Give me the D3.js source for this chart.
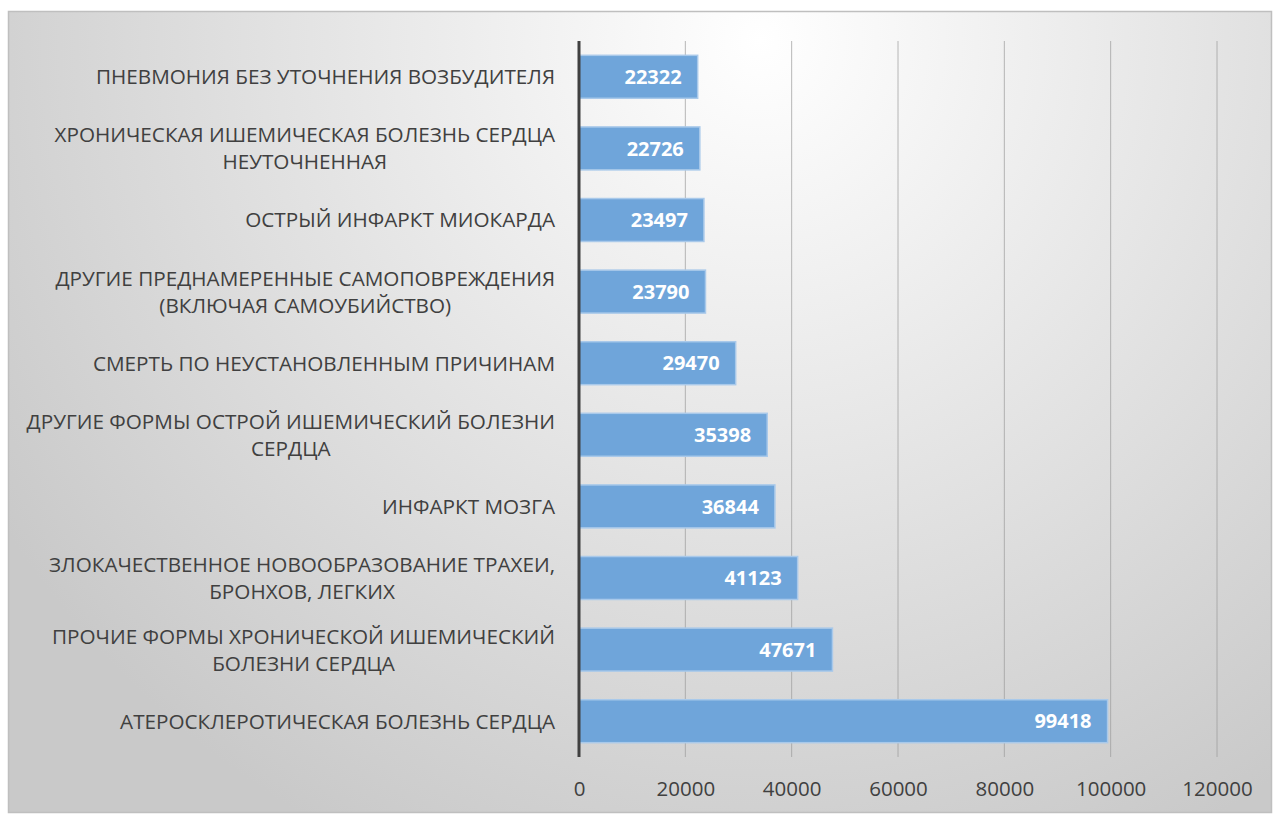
<!DOCTYPE html>
<html>
<head>
<meta charset="utf-8">
<script src="https://cdn.jsdelivr.net/npm/d3@7"></script>
<style>
  body { margin: 0; background: #fff; }
  text { font-family: "Open Sans", sans-serif; }
</style>
</head>
<body>
<div id="chart"></div>
<script>
// causes of death, top to bottom as in the picture
const categories = [
    ['ПНЕВМОНИЯ БЕЗ УТОЧНЕНИЯ ВОЗБУДИТЕЛЯ'],
    ['ХРОНИЧЕСКАЯ ИШЕМИЧЕСКАЯ БОЛЕЗНЬ СЕРДЦА', 'НЕУТОЧНЕННАЯ'],
    ['ОСТРЫЙ ИНФАРКТ МИОКАРДА'],
    ['ДРУГИЕ ПРЕДНАМЕРЕННЫЕ САМОПОВРЕЖДЕНИЯ', '(ВКЛЮЧАЯ САМОУБИЙСТВО)'],
    ['СМЕРТЬ ПО НЕУСТАНОВЛЕННЫМ ПРИЧИНАМ'],
    ['ДРУГИЕ ФОРМЫ ОСТРОЙ ИШЕМИЧЕСКИЙ БОЛЕЗНИ', 'СЕРДЦА'],
    ['ИНФАРКТ МОЗГА'],
    ['ЗЛОКАЧЕСТВЕННОЕ НОВООБРАЗОВАНИЕ ТРАХЕИ,', 'БРОНХОВ, ЛЕГКИХ'],
    ['ПРОЧИЕ ФОРМЫ ХРОНИЧЕСКОЙ ИШЕМИЧЕСКИЙ', 'БОЛЕЗНИ СЕРДЦА'],
    ['АТЕРОСКЛЕРОТИЧЕСКАЯ БОЛЕЗНЬ СЕРДЦА']
]
const values = [22322, 22726, 23497, 23790, 29470, 35398, 36844, 41123, 47671, 99418]
const xTicks = [0, 20000, 40000, 60000, 80000, 100000, 120000]

const width = 1275, height = 814
const margin = {left: 579, right: 58, top: 41, bottom: 57}

let svg = d3.select('#chart').append('svg')
    .attr('width', width)
    .attr('height', height)

// background gradient of the chart area
let defs = svg.append('defs')
let grad = defs.append('radialGradient')
    .attr('id', 'bg')
    .attr('gradientUnits', 'userSpaceOnUse')
    .attr('cx', 760).attr('cy', 40).attr('r', 900)
grad.append('stop').attr('offset', '0%').attr('stop-color', '#ffffff')
grad.append('stop').attr('offset', '100%').attr('stop-color', '#c9c9c9')

svg.append('rect')
    .attr('x', 8.5).attr('y', 11.5)
    .attr('width', 1263).attr('height', 801)
    .attr('fill', 'url(#bg)')
    .attr('stroke', '#bfbfbf')
    .attr('stroke-width', 1.5)

let x = d3.scaleLinear()
    .domain([0, 120000])
    .range([margin.left, width - margin.right])

let y = d3.scaleBand()
    .domain(d3.range(categories.length))
    .range([margin.top, height - margin.bottom])
    .paddingInner(0.4)
    .paddingOuter(0.2)

// vertical gridlines
svg.append('g')
    .selectAll('line')
    .data(xTicks.slice(1))
    .enter().append('line')
    .attr('x1', d => x(d)).attr('x2', d => x(d))
    .attr('y1', margin.top).attr('y2', height - margin.bottom)
    .attr('stroke', '#9a9a9a')
    .attr('stroke-opacity', 0.7)
    .attr('stroke-width', 1)

// x axis labels
let xAxis = d3.axisBottom(x).tickValues(xTicks).tickFormat(d3.format('d')).tickSize(0).tickPadding(24)
let gx = svg.append('g')
    .attr('transform', `translate(0,${height - margin.bottom})`)
    .call(xAxis)
gx.select('.domain').remove()
gx.selectAll('text')
    .attr('fill', '#404040')
    .style('font-size', '20.5px')
    .style('font-family', '"Open Sans", sans-serif')

// bars
svg.append('g')
    .selectAll('rect')
    .data(values)
    .enter().append('rect')
    .attr('x', x(0))
    .attr('y', (d, i) => y(i))
    .attr('width', d => x(d) - x(0))
    .attr('height', y.bandwidth())
    .attr('fill', '#6fa5da')
    .attr('stroke', '#a9c9ea')
    .attr('stroke-width', 1.5)

// value labels inside bars
svg.append('g')
    .selectAll('text')
    .data(values)
    .enter().append('text')
    .attr('x', d => x(d) - 16)
    .attr('y', (d, i) => y(i) + y.bandwidth() / 2)
    .attr('dy', '0.36em')
    .attr('text-anchor', 'end')
    .attr('fill', '#ffffff')
    .style('font-size', '20px')
    .style('font-weight', 'bold')
    .text(d => d)

// y axis line
svg.append('line')
    .attr('x1', x(0)).attr('x2', x(0))
    .attr('y1', margin.top).attr('y2', height - margin.bottom)
    .attr('stroke', '#404040')
    .attr('stroke-width', 3)

// category labels: block right-aligned to the axis, lines centred within it
let labelRight = 555
let lineH = 27
let catG = svg.append('g')
categories.forEach((lines, i) => {
    let g = catG.append('g')
    let cy = y(i) + y.bandwidth() / 2
    let texts = lines.map((t, k) => g.append('text')
        .attr('y', cy + (k - (lines.length - 1) / 2) * lineH)
        .attr('dy', '0.36em')
        .attr('text-anchor', 'middle')
        .attr('fill', '#404040')
        .style('font-size', '20.7px')
        .text(t))
    let w = d3.max(texts, t => t.node().getComputedTextLength())
    texts.forEach(t => t.attr('x', labelRight - w / 2))
})
</script>
</body>
</html>
